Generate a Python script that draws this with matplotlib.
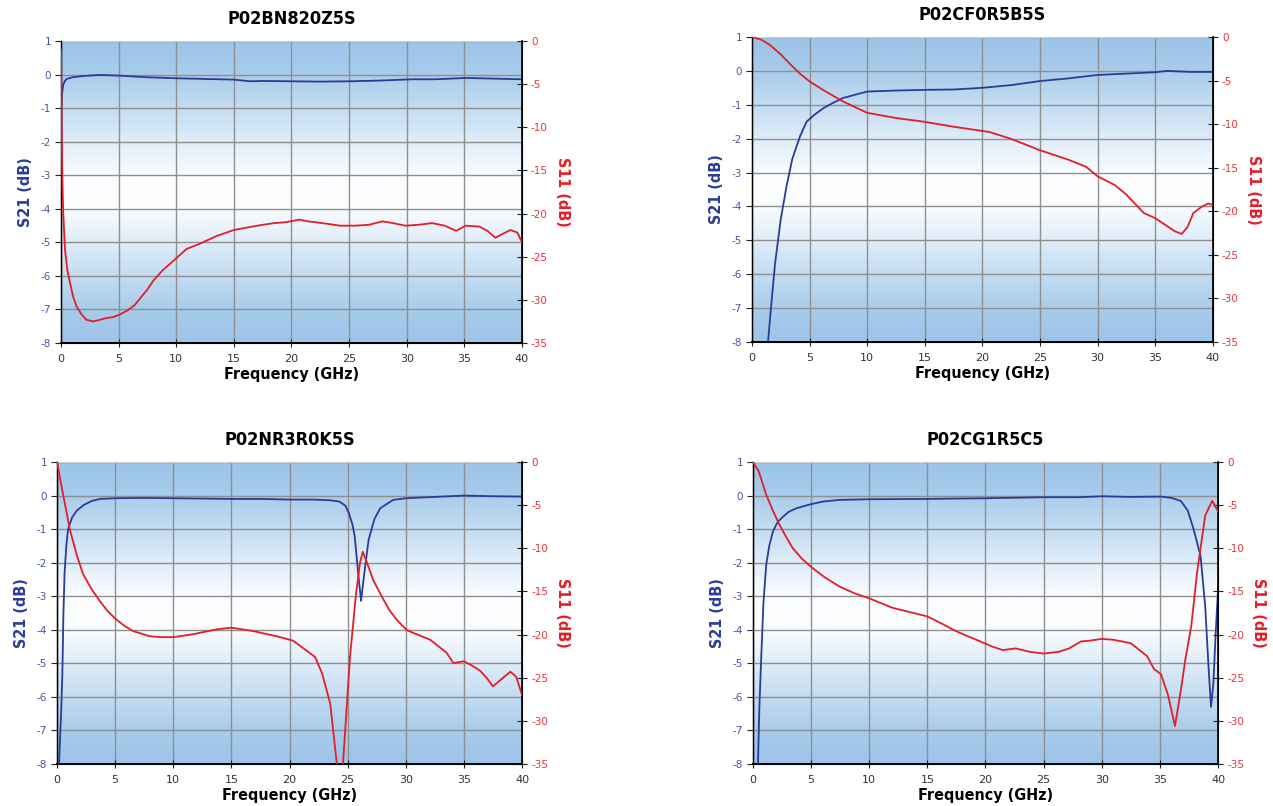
import matplotlib
matplotlib.use("Agg")
import matplotlib.pyplot as plt
import numpy as np
from matplotlib.colors import LinearSegmentedColormap
from matplotlib import font_manager

plt.rcParams['axes.unicode_minus'] = False

# --- data (frequency in GHz, values in dB) ---
titles = ['P02BN820Z5S', 'P02CF0R5B5S', 'P02NR3R0K5S', 'P02CG1R5C5']

# P02BN820Z5S
f1_s21 = [0, 0.02, 0.05, 0.1, 0.2, 0.35, 0.5, 1, 2, 3.4, 5, 7.5, 10, 12.5, 15, 16.4,
          17.5, 20, 22.5, 25, 27.5, 30.5, 32.5, 35.2, 37.5, 40]
s21_1 = [-8, -3, -1, -0.55, -0.3, -0.18, -0.13, -0.08, -0.04, -0.01, -0.03, -0.08, -0.11,
         -0.13, -0.15, -0.2, -0.19, -0.2, -0.21, -0.2, -0.18, -0.14, -0.14, -0.1, -0.12, -0.14]
f1_s11 = [0, 0.03, 0.07, 0.12, 0.2, 0.35, 0.55, 0.78, 1.05, 1.36, 1.8, 2.2, 2.8, 3.4, 3.96,
          4.5, 5.1, 5.8, 6.4, 7.0, 7.5, 8.0, 8.8, 9.73, 10.9, 12.03, 13.5, 15.0, 16.2, 17.5,
          18.5, 19.5, 20.7, 21.4, 22.1, 23.2, 24.2, 25.5, 26.7, 27.9, 28.8, 29.9, 31.0, 32.2,
          33.3, 34.3, 35.1, 36.3, 37.0, 37.7, 38.4, 39.0, 39.6, 40]
s11_1 = [-1, -5, -11, -16, -20, -24.2, -26.5, -28, -29.6, -30.8, -31.7, -32.3, -32.5, -32.3,
         -32.1, -32.0, -31.7, -31.2, -30.6, -29.6, -28.8, -27.8, -26.6, -25.5, -24.1, -23.5,
         -22.6, -21.9, -21.6, -21.3, -21.1, -21.0, -20.7, -20.9, -21.0, -21.2, -21.4, -21.4,
         -21.3, -20.9, -21.1, -21.4, -21.3, -21.1, -21.4, -22.0, -21.4, -21.5, -22.0, -22.8,
         -22.3, -21.9, -22.2, -23.3]

# P02CF0R5B5S
f2_s21 = [1.3, 1.39, 1.7, 2.0, 2.49, 3.0, 3.5, 4.16, 4.74, 5.4, 6.2, 7.0, 7.9, 10, 12.5, 15,
          17.5, 20, 22.5, 25, 27.5, 30, 32.5, 35, 36, 38, 40]
s21_2 = [-8.6, -8, -6.8, -5.7, -4.4, -3.4, -2.6, -1.94, -1.5, -1.3, -1.1, -0.95, -0.8, -0.61,
         -0.58, -0.56, -0.55, -0.5, -0.42, -0.3, -0.22, -0.12, -0.08, -0.04, 0.0, -0.03, -0.03]
f2_s11 = [0, 0.8, 1.56, 2.5, 3.3, 4.16, 5, 6.2, 7.9, 10, 12.5, 14.8, 17.5, 20.6, 22.5, 25,
          27.5, 29, 30, 31.5, 32.5, 33.5, 34, 35, 35.8, 36.7, 37.3, 37.8, 38.3, 39, 39.6, 40]
s11_2 = [0, -0.3, -0.92, -2.0, -3.1, -4.2, -5.1, -6.1, -7.4, -8.7, -9.3, -9.7, -10.3, -10.9,
         -11.7, -13.0, -14.1, -14.9, -16.0, -17.0, -18.1, -19.5, -20.2, -20.8, -21.5, -22.3,
         -22.6, -21.8, -20.2, -19.5, -19.1, -19.3]

# P02NR3R0K5S
f3_s21 = [0.1, 0.17, 0.35, 0.46, 0.55, 0.65, 0.8, 0.95, 1.3, 1.7, 2.3, 3.0, 3.7, 5, 7.5, 10,
          12.5, 15, 17.5, 20, 22, 23.5, 24.3, 24.8, 25.1, 25.4, 25.6, 25.9, 26.15, 26.4, 26.8,
          27.3, 27.8, 28.9, 30, 32.5, 35, 37.5, 40]
s21_3 = [-9, -8, -6.5, -5.3, -3.5, -2.3, -1.5, -1.0, -0.65, -0.45, -0.28, -0.16, -0.1, -0.08,
         -0.07, -0.08, -0.09, -0.1, -0.1, -0.12, -0.12, -0.14, -0.18, -0.3, -0.52, -0.85, -1.2,
         -2.3, -3.14, -2.4, -1.32, -0.7, -0.38, -0.13, -0.08, -0.04, 0.0, -0.02, -0.03]
f3_s11 = [0, 0.3, 0.6, 1.1, 1.7, 2.24, 3.0, 3.68, 4.3, 4.97, 5.7, 6.55, 7.99, 9.0, 10, 11.7,
          13.7, 15, 16.9, 18.9, 20.3, 21.5, 22.2, 22.8, 23.5, 24.06, 24.35, 24.6, 25.2, 25.7,
          26.06, 26.3, 26.7, 27.2, 27.9, 28.6, 29.3, 30.1, 31.0, 32.1, 33.5, 34.1, 35, 35.7,
          36.4, 37.0, 37.5, 38.2, 39, 39.5, 40]
s11_3 = [0, -2.2, -4.3, -7.8, -10.8, -13.0, -14.8, -16.1, -17.2, -18.1, -18.9, -19.6, -20.2,
         -20.3, -20.3, -19.96, -19.4, -19.2, -19.6, -20.2, -20.7, -21.9, -22.6, -24.5, -28.0,
         -34.9, -42, -34.9, -22.6, -15.5, -11.7, -10.4, -11.8, -13.7, -15.5, -17.2, -18.4,
         -19.5, -20.0, -20.6, -22.1, -23.3, -23.1, -23.6, -24.2, -25.1, -26.0, -25.2, -24.3,
         -24.9, -27]

# P02CG1R5C5
f4_s21 = [0.35, 0.43, 0.55, 0.72, 0.9, 1.14, 1.4, 1.72, 2.1, 2.58, 3.1, 3.72, 4.95, 6, 7.4,
          10, 15, 20, 25, 28, 30, 32.5, 35.1, 36, 36.8, 37.4, 37.9, 38.5, 38.9, 39.2, 39.4,
          39.6, 39.8, 40]
s21_4 = [-9, -8, -6.3, -4.74, -3.2, -2.06, -1.5, -1.07, -0.8, -0.63, -0.48, -0.38, -0.26,
         -0.18, -0.13, -0.11, -0.1, -0.08, -0.05, -0.05, -0.02, -0.04, -0.03, -0.07, -0.16,
         -0.45, -1.0, -1.8, -3.3, -5.2, -6.3, -5.6, -4.1, -2.85]
f4_s11 = [0, 0.5, 1.14, 1.7, 2.29, 2.9, 3.43, 4.2, 4.95, 6.1, 7.4, 8.7, 10.0, 12.0, 13.5, 15,
          16.2, 17.45, 19.2, 20.6, 21.5, 22.6, 23.8, 25, 26.3, 27.2, 28.2, 29, 30.0, 31, 32.5,
          33.9, 34.5, 35.1, 35.7, 36.3, 36.8, 37.2, 37.7, 38.2, 38.9, 39.5, 40]
s11_4 = [0, -1.1, -3.8, -5.6, -7.3, -8.8, -10.0, -11.2, -12.1, -13.3, -14.4, -15.2, -15.8,
         -16.9, -17.4, -17.9, -18.7, -19.6, -20.6, -21.4, -21.8, -21.6, -22.0, -22.2, -22.0,
         -21.6, -20.8, -20.7, -20.5, -20.6, -21.0, -22.5, -24.0, -24.6, -27.0, -30.6, -26.5,
         -22.8, -19.0, -12.8, -6.2, -4.5, -5.7]

x_ticks = [0, 5, 10, 15, 20, 25, 30, 35, 40]
s21_ticks = [1, 0, -1, -2, -3, -4, -5, -6, -7, -8]
s11_ticks = [0, -5, -10, -15, -20, -25, -30, -35]

BLUE = '#2b3c98'
RED = '#e31e26'
BLUE_TXT = '#4657a8'
RED_TXT = '#e8323a'

# look for a condensed bold face for the headings
condensed = None
for fe in font_manager.fontManager.ttflist:
    if fe.weight in ('bold', 700) and fe.stretch in ('condensed', 'semi-condensed', 'extra-condensed', 300, 400) \
            and ('Condensed' in fe.fname or 'Narrow' in fe.fname):
        condensed = fe.fname
        break
if condensed:
    HEAD = dict(fontproperties=font_manager.FontProperties(fname=condensed))
else:
    HEAD = dict(family='DejaVu Sans', fontweight='bold')

bg = LinearSegmentedColormap.from_list('bg', [
    (0.0, '#9cc4e8'), (0.1, '#a6cbeb'), (0.45, '#fbfdff'), (0.55, '#fbfdff'),
    (0.9, '#a6cbeb'), (1.0, '#9cc4e8')])

panels = [
    (titles[0], f1_s21, s21_1, f1_s11, s11_1, [0.0479, 0.5744, 0.3621, 0.3747]),
    (titles[1], f2_s21, s21_2, f2_s11, s11_2, [0.5907, 0.5757, 0.3621, 0.3784]),
    (titles[2], f3_s21, s21_3, f3_s11, s11_3, [0.0448, 0.0521, 0.3653, 0.3747]),
    (titles[3], f4_s21, s21_4, f4_s11, s11_4, [0.5915, 0.0521, 0.3653, 0.3747]),
]

fig = plt.figure(figsize=(12.73, 8.06), dpi=100)

for title, fa, sa, fb, sb, pos in panels:
    ax = fig.add_axes(pos)
    ax.imshow(np.linspace(0, 1, 256).reshape(-1, 1), cmap=bg, aspect='auto',
              extent=[0, 40, -8, 1], origin='upper', zorder=0)
    ax.plot(fa, sa, color=BLUE, lw=1.3, zorder=3)
    ax.set_xlim(0, 40)
    ax.set_ylim(-8, 1)
    ax.set_xticks(x_ticks)
    ax.set_yticks(s21_ticks)
    ax.grid(True, color='#8f8f8f', lw=1.0)
    ax.tick_params(axis='y', colors='#222222', labelcolor=BLUE_TXT, labelsize=7.5,
                   direction='out', length=4, pad=3)
    ax.tick_params(axis='x', colors='#222222', labelcolor='#333333', labelsize=8,
                   direction='inout', length=6, pad=5)
    ax.spines['top'].set_color('#d0d0d0')
    ax.spines['bottom'].set_linewidth(1.4)
    ax.spines['left'].set_linewidth(1.0)

    t = ax.set_title(title, pad=12, **HEAD)
    t.set_fontsize(13)
    xl = ax.set_xlabel('Frequency (GHz)', labelpad=2, **HEAD)
    xl.set_fontsize(11.5)
    yl = ax.set_ylabel('S21 (dB)', color=BLUE, labelpad=6, **HEAD)
    yl.set_fontsize(11.5)

    ax2 = ax.twinx()
    ax2.plot(fb, sb, color=RED, lw=1.3, zorder=4)
    ax2.set_ylim(-35, 0)
    ax2.set_yticks(s11_ticks)
    ax2.tick_params(axis='y', colors='#222222', labelcolor=RED_TXT, labelsize=7.5,
                    direction='inout', length=7, pad=3)
    ax2.spines['right'].set_linewidth(1.2)
    ax2.spines['top'].set_visible(False)
    yl2 = ax2.set_ylabel('S11 (dB)', color=RED, rotation=270, labelpad=16, **HEAD)
    yl2.set_fontsize(11.5)

fig.savefig('out.png', dpi=100)
